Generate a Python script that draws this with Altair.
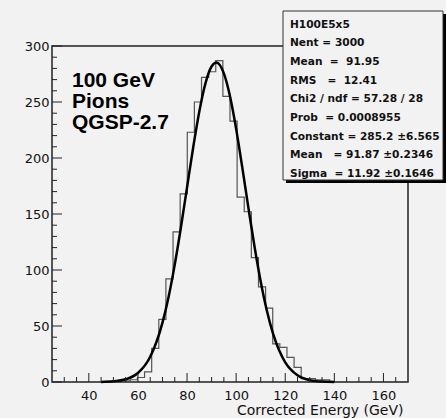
import altair as alt
import pandas as pd

# ---- data ----
x_lo = 25.0
x_hi = 170.0
bin_width = 2.9
counts = [0] * 10 + [1, 2, 4, 9, 30, 56, 92, 134, 168, 223,
                     250, 272, 277, 287, 255, 233, 165, 152, 111, 85,
                     66, 34, 31, 22, 13, 3, 3, 2, 2] + [0] * 11

fit_x = [45, 50, 55, 60, 65, 70, 72.5, 75, 77.5, 80, 82.5, 85, 87.5, 90, 92,
         95, 97.5, 100, 102.5, 105, 107.5, 110, 112.5, 115, 117.5, 120, 125, 130, 135, 140]
fit_y = [0.1, 0.6, 2.4, 8.0, 22.5, 53.0, 76.2, 104.8, 137.9, 173.7, 209.4, 241.6, 266.7, 281.7, 285.2,
         275.5, 255.1, 226.0, 191.6, 155.5, 120.7, 89.7, 63.8, 43.4, 28.3, 17.6, 6.0, 1.7, 0.4, 0.1]

x_major = [40, 60, 80, 100, 120, 140, 160]
x_minor = [30, 35, 45, 50, 55, 65, 70, 75, 85, 90, 95, 105, 110, 115, 125, 130, 135, 145, 150, 155, 165]
y_major = [0, 50, 100, 150, 200, 250, 300]
y_minor = [10, 20, 30, 40, 60, 70, 80, 90, 110, 120, 130, 140, 160, 170, 180, 190,
           210, 220, 230, 240, 260, 270, 280, 290]

stats_lines = [
    "H100E5x5",
    "Nent = 3000",
    "Mean\u00a0 = \u00a091.95",
    "RMS\u00a0\u00a0 = \u00a012.41",
    "Chi2 / ndf = 57.28 / 28",
    "Prob\u00a0 = 0.0008955",
    "Constant = 285.2 \u00b16.565",
    "Mean\u00a0\u00a0 = 91.87 \u00b10.2346",
    "Sigma\u00a0 = 11.92 \u00b10.1646",
]
label_lines = ["100 GeV", "Pions", "QGSP-2.7"]

# ---- tables ----
edges = [x_lo + bin_width * k for k in range(len(counts) + 1)]
hist_df = pd.DataFrame({"x": edges, "y": counts + [counts[-1]]})
fit_df = pd.DataFrame({"x": fit_x, "y": fit_y})

W, H = 356, 336
FONT = "DejaVu Sans"
FRAME = "#222222"
BG = "#f2f2f2"

xscale = alt.Scale(domain=[x_lo, x_hi], nice=False, zero=False)
yscale = alt.Scale(domain=[0, 300], nice=False, zero=True)

X_AXIS = alt.Axis(
    values=x_major, ticks=False, tickSize=0, domain=False, grid=False,
    labelFont=FONT, labelFontSize=13, labelColor="#111", labelPadding=7,
    title="Corrected Energy (GeV)", titleFont=FONT, titleFontSize=14, titleFontWeight="normal",
    titleColor="#111", titleAlign="right", titleBaseline="middle", titleX=W - 5, titleY=28)
Y_AXIS = alt.Axis(
    values=y_major, ticks=False, tickSize=0, domain=False, grid=False,
    labelFont=FONT, labelFontSize=13, labelColor="#111", labelPadding=3, title=None)

def X(field="x"):
    return alt.X(f"{field}:Q", scale=xscale, axis=X_AXIS)

def Y(field="y"):
    return alt.Y(f"{field}:Q", scale=yscale, axis=Y_AXIS)

hist = alt.Chart(hist_df).mark_line(interpolate="step-after", color="#555555", strokeWidth=1.2).encode(
    x=X(), y=Y())

fit = alt.Chart(fit_df).mark_line(interpolate="monotone", color="black", strokeWidth=2.5).encode(
    x=X(), y=Y())

def xticks(vals, length):
    return alt.Chart(pd.DataFrame({"x": vals})).mark_rule(color=FRAME, strokeWidth=1).encode(
        x=X(), y=alt.value(H), y2=alt.value(H - length))

def yticks(vals, length):
    return alt.Chart(pd.DataFrame({"y": vals})).mark_rule(color=FRAME, strokeWidth=1).encode(
        y=Y(), x=alt.value(0), x2=alt.value(length))

one = pd.DataFrame({"k": [0]})

label = alt.Chart(one).mark_text(
    align="left", baseline="alphabetic", font="Liberation Sans", fontSize=21, fontWeight="bold",
    lineHeight=21, color="black").encode(
    x=alt.value(20), y=alt.value(41), text=alt.value(label_lines))

shadow = alt.Chart(one).mark_rect(color="black").encode(
    x=alt.value(234), x2=alt.value(394), y=alt.value(-32), y2=alt.value(137))
box = alt.Chart(one).mark_rect(fill=BG, stroke="#333333", strokeWidth=1).encode(
    x=alt.value(231), x2=alt.value(391), y=alt.value(-35), y2=alt.value(134))
stats = alt.Chart(one).mark_text(
    align="left", baseline="alphabetic", font=FONT, fontSize=10.6, fontWeight="bold",
    lineHeight=18.7, color="#111").encode(
    x=alt.value(238), y=alt.value(-18.5), text=alt.value(stats_lines))

chart = alt.layer(
    hist, fit,
    xticks(x_major, 9), xticks(x_minor, 5), yticks(y_major, 10), yticks(y_minor, 5),
    label, shadow, box, stats,
).properties(
    width=W, height=H,
    autosize=alt.AutoSizeParams(type="none"),
    padding={"left": 52, "top": 46, "right": 38, "bottom": 36},
    background=BG,
).configure_view(stroke=FRAME, strokeWidth=1.5, fill=BG)

chart.save("out.html", embed_options={"renderer": "svg", "actions": False})
